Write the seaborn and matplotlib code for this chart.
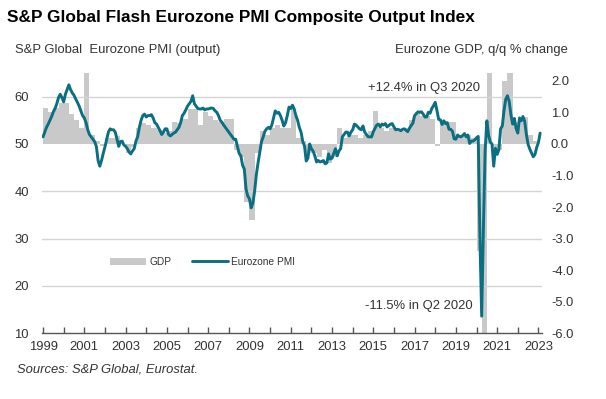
import numpy as np
import pandas as pd
import matplotlib
matplotlib.use("Agg")
import matplotlib.pyplot as plt
from matplotlib.patches import Patch
from matplotlib.lines import Line2D
import seaborn as sns

# ---------------- data ----------------
pmi_start_year = 1999  # monthly, Jan 1999 .. Feb 2023
pmi_1999_2004 = [
    51.5, 52.5, 53.5, 54.2, 55.0, 55.8, 56.8, 57.5, 58.5, 59.8, 60.5, 59.8,
    58.9, 60.5, 61.5, 62.5, 61.5, 60.8, 60.3, 59.5, 58.8, 58.0, 57.0, 56.0,
    55.5, 54.5, 53.0, 52.0, 51.5, 51.0, 50.5, 49.5, 46.5, 45.3, 46.5, 48.0,
    49.4, 51.0, 52.5, 53.2, 53.0, 53.0, 52.5, 51.0, 49.5, 50.5, 50.6, 49.8,
    49.5, 49.0, 48.3, 47.9, 48.5, 49.0, 50.6, 51.5, 53.5, 55.0, 56.0, 56.3,
    55.7, 56.0, 56.0, 56.2, 55.5, 54.5, 54.2, 53.5, 52.8, 52.0, 52.5, 53.2,
]
pmi_2005_2010 = [
    53.2, 52.0, 51.7, 52.0, 52.3, 52.5, 53.0, 53.5, 54.5, 56.0, 56.5, 57.2,
    58.0, 58.5, 59.0, 60.2, 58.5, 58.0, 57.5, 57.4, 57.4, 57.6, 57.2, 57.4,
    57.4, 57.5, 57.6, 57.5, 57.0, 56.7, 56.0, 55.0, 54.6, 54.0, 53.5, 53.0,
    52.5, 52.0, 51.5, 51.0, 51.0, 49.5, 48.0, 47.5, 45.5, 44.7, 40.5, 39.0,
    38.4, 36.5, 37.5, 40.0, 43.5, 46.0, 48.3, 50.5, 51.5, 52.7, 53.2, 53.5,
    53.2, 54.0, 55.5, 57.0, 56.5, 56.7, 56.0, 55.0, 53.8, 54.5, 56.0, 57.8,
]
pmi_2011_2016 = [
    57.5, 58.2, 57.4, 56.0, 55.0, 53.5, 52.5, 50.5, 49.6, 46.4, 47.0, 50.0,
    49.0, 48.5, 47.5, 46.2, 46.5, 46.2, 46.3, 46.5, 45.8, 46.0, 47.9, 46.8,
    47.0, 48.0, 49.0, 47.5, 48.5, 49.0, 51.5, 52.0, 52.5, 52.5, 51.7, 52.5,
    53.0, 54.2, 54.0, 53.6, 53.2, 53.0, 53.8, 52.5, 52.0, 51.5, 51.5, 51.5,
    52.6, 53.3, 54.0, 54.2, 53.6, 54.2, 54.0, 54.3, 53.6, 53.9, 54.2, 54.3,
    53.6, 53.0, 53.1, 53.0, 52.8, 53.1, 53.2, 52.9, 52.6, 53.3, 53.9, 54.4,
]
pmi_2017_2023 = [
    56.0, 56.4, 56.8, 56.7, 56.8, 56.3, 55.7, 55.7, 56.7, 56.5, 57.5, 58.1,
    58.8, 57.1, 55.2, 55.1, 54.1, 54.9, 54.3, 54.5, 53.1, 53.1, 52.7, 51.1,
    51.0, 51.9, 51.6, 51.5, 51.8, 52.2, 51.5, 51.9, 50.1, 50.6, 50.6, 50.9,
    51.3, 51.6, 29.7, 13.6, 31.9, 48.5, 54.9, 51.9, 50.4, 50.0, 45.3, 49.1,
    47.8, 48.8, 53.2, 53.8, 57.1, 59.5, 60.2, 59.0, 56.2, 54.2, 55.4, 53.3,
    52.3, 55.5, 54.9, 55.8, 54.8, 52.0, 49.9, 48.9, 48.1, 47.3, 47.8, 49.3,
    50.3, 52.3,
]

gdp_start_year = 1999  # quarterly, Q1 1999 .. Q4 2022
gdp_1999_2010 = [
    1.15, 1.0, 1.15, 1.3,
    1.3, 0.95, 0.75, 0.5,
    2.4, 0.3, 0.1, -0.05,
    0.2, 0.2, 0.25, 0.0,
    -0.3, -0.1, 0.5, 0.65,
    0.6, 0.5, 0.45, 0.35,
    0.4, 0.7, 0.65, 0.8,
    1.1, 1.1, 0.6, 1.0,
    0.9, 0.75, 0.7, 0.8,
    0.8, -0.2, -0.4, -1.85,
    -2.4, -0.3, 0.4, 0.3,
    0.5, 0.6, 0.5, 0.5,
]
gdp_2011_2022 = [
    1.1, 0.2, 0.1, -0.3,
    -0.3, -0.4, -0.2, -0.6,
    -0.4, 0.5, 0.2, 0.3,
    0.3, 0.2, 0.3, 0.4,
    1.05, 0.5, 0.4, 0.5,
    0.5, 0.4, 0.5, 0.75,
    1.0, 0.9, 0.9, 0.8,
    -0.05, 0.7, 0.7, 0.7,
    0.3, 0.25, 0.3, 0.2,
    -3.4, -11.5, 12.4, -0.1,
    -0.2, 2.0, 2.3, 0.7,
    0.8, 0.85, 0.3, 0.1,
]

x_tick_years = list(range(1999, 2024, 2))
left_ticks = [10, 20, 30, 40, 50, 60]
right_ticks = [-6.0, -5.0, -4.0, -3.0, -2.0, -1.0, 0.0, 1.0, 2.0]

title = "S&P Global Flash Eurozone PMI Composite Output Index"
left_label = "S&P Global  Eurozone PMI (output)"
right_label = "Eurozone GDP, q/q % change"
source = "Sources: S&P Global, Eurostat."
ann_up = "+12.4% in Q3 2020"
ann_down = "-11.5% in Q2 2020"

# ---------------- frames ----------------
pmi = pmi_1999_2004 + pmi_2005_2010 + pmi_2011_2016 + pmi_2017_2023
pmi_df = pd.DataFrame({
    "t": pmi_start_year + np.arange(len(pmi)) / 12.0,
    "pmi": pmi,
})
gdp = gdp_1999_2010 + gdp_2011_2022
gdp_df = pd.DataFrame({
    "t": gdp_start_year + np.arange(len(gdp)) / 4.0,
    "gdp": gdp,
})

# ---------------- style ----------------
sns.set_theme(style="white")
plt.rcParams["font.family"] = ["Liberation Sans", "DejaVu Sans"]
text_col = "#333333"
line_col = "#0a6f82"
bar_col = "#c9c9c9"
grid_col = "#d4d4d4"
fs = 9.4

fig = plt.figure(figsize=(6.06, 3.99), dpi=100)
ax = fig.add_axes([0.0693, 0.165, 0.825, 0.652])
ax2 = ax.twinx()
ax.set_zorder(ax2.get_zorder() + 1)
ax.patch.set_visible(False)

# bars (right scale)
ax2.bar(gdp_df["t"], gdp_df["gdp"], width=0.25, align="edge",
        color=bar_col, edgecolor="none", linewidth=0)
ax2.set_ylim(-6.0, 2.25)

# line (left scale)
sns.lineplot(data=pmi_df, x="t", y="pmi", ax=ax, color=line_col,
             linewidth=2.1, legend=False)
ax.set_ylim(10, 65)
ax.set_xlim(1998.95, 2023.17)

# grid
for v in [20, 30, 40, 60]:
    ax.axhline(v, color=grid_col, linewidth=1.0, zorder=0)

# spines
for a in (ax, ax2):
    for s in ("top", "left", "right"):
        a.spines[s].set_visible(False)
ax.spines["bottom"].set_color("#555555")
ax.spines["bottom"].set_linewidth(1.0)
ax2.spines["bottom"].set_visible(False)

# x ticks
ax.set_xticks(x_tick_years)
ax.set_xticklabels([str(y) for y in x_tick_years])
ax.set_xticks(list(range(1999, 2024)), minor=True)
ax.tick_params(axis="x", which="both", direction="in", length=4, width=1,
               color="#555555", bottom=True, pad=6, labelsize=fs,
               labelcolor=text_col)
ax.set_xlabel("")
ax.set_ylabel("")

# y ticks
ax.set_yticks(left_ticks)
ax.set_yticklabels([str(v) for v in left_ticks])
ax.tick_params(axis="y", left=False, length=0, pad=9.5, labelsize=fs,
               labelcolor=text_col)
ax2.set_yticks(right_ticks)
ax2.set_yticklabels([f"{v:.1f}" for v in right_ticks])
ax2.tick_params(axis="y", right=False, length=0, pad=6.5, labelsize=fs,
                labelcolor=text_col)
ax2.set_ylabel("")

# texts
fig.text(0.012, 0.955, title, fontsize=12.45, fontweight="bold",
         color="#000000", ha="left", va="center")
fig.text(0.025, 0.874, left_label, fontsize=fs, color=text_col,
         ha="left", va="center")
fig.text(0.937, 0.874, right_label, fontsize=fs, color=text_col,
         ha="right", va="center")
fig.text(0.028, 0.073, source, fontsize=fs, color=text_col,
         style="italic", ha="left", va="center")

ax.text(2020.16, 61.8, ann_up, fontsize=fs, color=text_col,
        ha="right", va="center")
ax.text(2019.82, 15.75, ann_down, fontsize=fs, color=text_col,
        ha="right", va="center")

# legend
handles = [Patch(facecolor=bar_col, edgecolor="none"),
           Line2D([0], [0], color=line_col, linewidth=2.1)]
fig.legend(handles, ["GDP", "Eurozone PMI"], loc="center",
           bbox_to_anchor=(0.334, 0.343), ncol=2, frameon=False,
           fontsize=7.3, handlelength=3.6, handleheight=0.8,
           columnspacing=2.0, handletextpad=0.3, labelcolor=text_col)

fig.savefig("out.png", dpi=100)
